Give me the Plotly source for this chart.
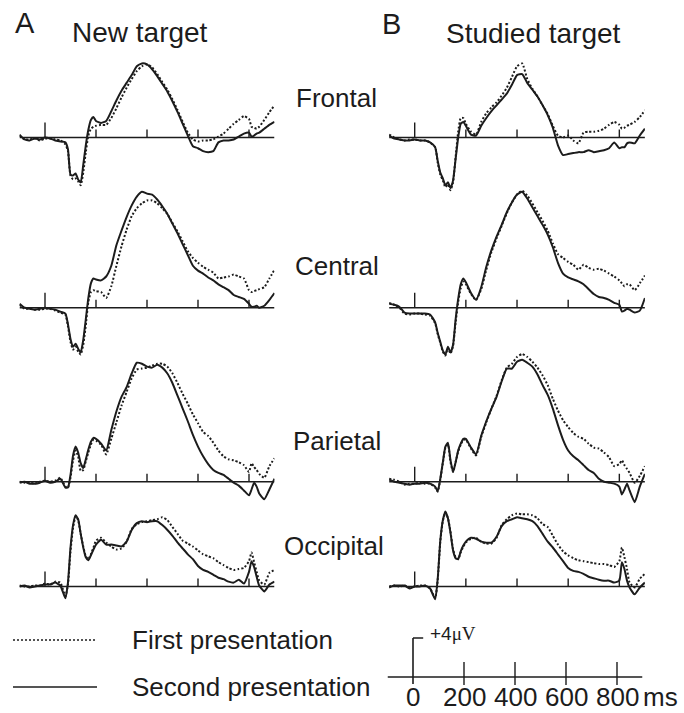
import plotly.graph_objects as go

# ---------------- data ----------------
TIME_MS = [-100, -80, -60, -40, -20, 0, 20, 40, 60, 80,
           90, 100, 110, 120, 130, 140, 150, 160, 170, 180, 190,
           200, 220, 240, 260, 280, 300, 320, 340, 360, 380, 400, 420, 440, 460,
           480, 500, 520, 540, 560, 580, 600, 620, 640, 660, 680, 700, 720, 740,
           760, 780, 800, 810, 820, 830, 840, 860, 880, 900]

REGIONS = ["Frontal", "Central", "Parietal", "Occipital"]
CONDITIONS = ["New target", "Studied target"]
PANEL_LETTERS = ["A", "B"]
LEGEND_LABELS = ["First presentation", "Second presentation"]
SCALE_TICKS = [0, 200, 400, 600, 800]
SCALE_TICK_LABELS = ["0", "200", "400", "600", "800"]
SCALE_UV = 4
PANEL_TICKS = [0, 200, 400, 600, 800]

# amplitudes in microvolts (positive up)
NEW_FRONTAL_FIRST = [0.2, -0.2, -0.2, -0.1, -0.3, -0.1, -0.1, -0.2, -0.3, -0.7,
                     -1.4, -3.9, -4.3, -4.2, -4.5, -4.9, -3.6, -1.5, 0.2, 0.9, 1.1,
                     1.2, 1.3, 1.3, 2.0, 3.0, 4.1, 5.1, 6.0, 6.8, 7.3, 7.5, 7.2, 6.5, 5.7,
                     4.9, 3.9, 2.8, 1.6, 0.5, -0.2, -0.4, -0.3, -0.3, -0.2, 0.1, 0.4, 0.9, 1.4,
                     1.8, 2.2, 1.9, 1.1, 1.0, 0.9, 1.1, 1.8, 2.6, 3.3]
NEW_FRONTAL_SECOND = [0.3, -0.2, -0.3, -0.1, -0.2, 0.0, -0.1, -0.3, -0.4, -0.5,
                      -1.2, -3.8, -3.9, -3.7, -4.3, -4.6, -2.8, -0.8, 0.8, 1.8, 2.1,
                      1.7, 1.5, 1.7, 2.7, 3.8, 4.8, 5.6, 6.4, 7.3, 7.6, 7.5, 7.0, 6.3, 5.5,
                      4.7, 3.7, 2.6, 1.4, 0.2, -0.9, -1.1, -1.4, -1.5, -1.4, -0.5, -0.3, -0.3, -0.2,
                      0.1, 0.4, 0.5, 0.1, 0.2, 0.4, 0.5, 0.9, 1.3, 1.6]

NEW_CENTRAL_FIRST = [0.3, -0.1, -0.1, -0.2, -0.2, -0.1, -0.1, -0.3, -0.5, -0.7,
                     -1.9, -3.5, -4.3, -4.0, -4.5, -4.8, -3.8, -1.8, 0.6, 1.6, 1.8,
                     1.7, 1.6, 1.0, 2.2, 4.3, 6.3, 8.0, 9.4, 10.2, 10.7, 11.0, 11.0, 10.7, 10.2,
                     9.6, 8.7, 7.8, 6.8, 5.8, 5.1, 4.6, 4.2, 3.9, 3.6, 3.0, 3.1, 3.2, 3.4,
                     3.2, 3.0, 1.8, 1.6, 1.7, 1.8, 1.9, 2.1, 3.0, 3.9]
NEW_CENTRAL_SECOND = [0.4, 0.0, -0.1, -0.2, -0.1, 0.0, -0.1, -0.2, -0.4, -0.6,
                      -1.7, -3.2, -4.0, -3.7, -4.2, -4.6, -3.3, -1.2, 1.0, 2.5, 3.0,
                      2.9, 2.8, 3.2, 4.3, 6.4, 7.9, 9.3, 10.5, 11.4, 11.9, 11.7, 11.6, 11.1, 10.4,
                      9.6, 8.6, 7.6, 6.5, 5.4, 4.3, 3.8, 3.5, 3.1, 2.8, 2.4, 2.1, 1.8, 1.3,
                      1.1, 0.9, 0.4, 0.1, 0.1, 0.2, 0.0, 0.2, 0.8, 1.5]

NEW_PARIETAL_FIRST = [0.0, -0.1, -0.1, -0.2, 0.0, 0.1, 0.0, 0.1, 0.4, -0.5,
                      -0.6, 0.4, 2.2, 3.2, 2.6, 1.1, 1.2, 2.1, 3.0, 3.8, 4.3,
                      4.2, 3.8, 2.8, 4.4, 6.1, 7.8, 9.2, 10.6, 11.5, 11.6, 11.7, 11.9, 12.1, 12.1,
                      11.8, 11.1, 10.1, 9.0, 8.0, 6.9, 6.0, 5.1, 4.7, 4.0, 3.2, 2.6, 2.3, 2.2,
                      2.0, 1.7, 1.0, 1.9, 1.5, 1.2, 0.8, 0.4, 1.6, 2.4]
NEW_PARIETAL_SECOND = [-0.1, 0.0, -0.2, -0.2, -0.1, 0.1, -0.1, 0.0, 0.3, -0.6,
                       -0.6, 0.7, 2.7, 3.6, 3.0, 1.9, 1.4, 2.3, 3.3, 4.1, 4.5,
                       4.4, 3.9, 3.2, 5.3, 7.2, 8.7, 9.7, 11.1, 12.2, 12.1, 11.8, 11.7, 12.0, 11.7,
                       11.1, 10.1, 8.8, 7.5, 6.2, 4.8, 3.6, 2.6, 1.8, 1.2, 0.9, 0.7, 0.3, -0.1,
                       -0.4, -0.9, -1.4, -0.8, -0.1, -0.5, -1.2, -1.8, -0.8, 0.3]

NEW_OCCIPITAL_FIRST = [0.1, 0.0, 0.0, 0.1, 0.1, 0.3, 0.2, 0.5, 0.4, -1.0,
                       0.2, 3.6, 6.0, 7.2, 6.8, 5.4, 4.1, 3.1, 2.8, 3.3, 4.0,
                       4.7, 5.0, 4.5, 4.1, 3.8, 3.9, 4.6, 5.9, 6.4, 6.6, 6.7, 6.8, 6.9, 7.1,
                       6.8, 6.1, 5.4, 4.7, 4.4, 4.1, 3.7, 3.3, 3.1, 2.9, 2.5, 2.2, 1.9, 1.7,
                       1.8, 1.9, 2.6, 3.5, 2.5, 1.5, 0.6, 0.2, 1.4, 1.7]
NEW_OCCIPITAL_SECOND = [0.0, 0.1, -0.1, 0.0, 0.1, 0.2, 0.2, 0.4, 0.1, -1.2,
                        0.4, 4.0, 6.3, 7.3, 6.9, 5.4, 4.0, 3.0, 2.7, 3.2, 3.8,
                        4.3, 4.8, 4.3, 4.3, 4.2, 4.1, 4.6, 5.8, 6.5, 6.7, 6.6, 6.7, 6.7, 6.3,
                        5.8, 5.2, 4.5, 3.9, 3.3, 2.8, 2.1, 1.7, 1.5, 1.2, 0.9, 0.75, 0.5, 0.4,
                        0.7, 0.3, 1.5, 2.6, 2.0, 1.0, 0.1, -0.5, 0.2, 0.5]

STUDIED_FRONTAL_FIRST = [0.3, 0.0, -0.2, -0.3, -0.2, -0.2, -0.3, -0.3, -0.5, -1.0,
                         -2.6, -3.8, -4.4, -5.1, -4.8, -5.4, -4.6, -2.0, 0.6, 2.0, 2.0,
                         1.4, 0.6, 0.3, 1.6, 2.5, 3.1, 3.6, 4.3, 5.1, 6.2, 7.3, 7.6, 6.0, 5.0,
                         4.2, 3.3, 2.4, 1.2, 0.2, 0.0, 0.2, -0.3, -0.6, 0.5, 0.6, 0.6, 0.7, 0.9,
                         1.3, 1.6, 1.3, 0.9, 1.0, 1.2, 1.3, 1.6, 2.1, 2.8]
STUDIED_FRONTAL_SECOND = [0.2, -0.1, -0.2, -0.3, -0.3, -0.2, -0.3, -0.3, -0.5, -1.0,
                          -2.4, -3.6, -4.2, -4.9, -4.6, -5.2, -4.4, -2.2, 0.0, 1.4, 1.6,
                          1.2, 0.3, 0.2, 1.2, 2.0, 2.7, 3.3, 3.9, 4.5, 5.4, 6.4, 6.5, 5.6, 4.9,
                          4.2, 3.3, 2.3, 1.0, -0.8, -1.8, -1.7, -1.6, -1.5, -1.5, -1.3, -1.5, -1.4, -1.3,
                          -1.1, -0.5, -1.1, -1.0, -1.0, -0.6, -0.5, -0.6, 0.2, 0.9]

STUDIED_CENTRAL_FIRST = [0.5, 0.3, 0.0, -0.6, -0.7, -0.6, -0.6, -0.7, -0.8, -1.6,
                         -2.7, -3.6, -4.5, -4.9, -4.1, -4.7, -3.9, -1.5, 0.6, 2.0, 2.7,
                         2.4, 1.4, 0.8, 1.9, 3.9, 5.7, 7.1, 8.4, 9.7, 10.8, 11.6, 12.0, 11.5, 10.7,
                         9.8, 8.9, 7.9, 6.6, 5.5, 5.1, 4.7, 4.4, 3.9, 4.4, 4.1, 3.9, 4.0, 3.8,
                         3.5, 3.2, 2.8, 2.5, 2.2, 2.4, 2.4, 1.8, 2.5, 3.3]
STUDIED_CENTRAL_SECOND = [0.4, 0.3, 0.1, -0.5, -0.6, -0.6, -0.6, -0.6, -0.7, -1.5,
                          -2.6, -3.5, -4.4, -4.8, -4.0, -4.6, -3.8, -1.2, 0.9, 2.4, 3.0,
                          2.6, 1.5, 0.8, 2.1, 4.2, 5.9, 7.3, 8.5, 9.8, 10.8, 11.6, 11.9, 11.2, 10.3,
                          9.4, 8.5, 7.5, 6.2, 4.6, 3.5, 3.1, 2.9, 2.7, 2.4, 1.9, 1.4, 1.1, 1.0,
                          0.8, 0.5, 0.3, -0.4, -0.3, -0.1, -0.2, -0.5, -0.3, 1.0]

STUDIED_PARIETAL_FIRST = [0.3, 0.2, 0.0, -0.3, -0.2, -0.2, -0.1, -0.2, -0.2, -0.6,
                          -1.0, 0.2, 1.9, 3.5, 3.8, 2.0, 1.0, 2.0, 3.1, 3.8, 4.3,
                          4.3, 3.4, 2.7, 4.6, 6.1, 7.5, 8.8, 10.4, 11.7, 12.1, 12.8, 13.1, 12.8, 12.3,
                          11.7, 10.9, 9.9, 8.5, 7.3, 6.3, 5.6, 5.0, 4.6, 4.4, 3.9, 3.5, 3.4, 3.0,
                          2.5, 1.6, 1.8, 2.2, 1.7, 1.3, 0.9, -0.1, 0.6, 1.6]
STUDIED_PARIETAL_SECOND = [0.2, 0.0, -0.1, -0.2, -0.3, -0.2, -0.2, -0.1, -0.2, -0.5,
                           -1.0, 0.3, 2.0, 3.6, 4.0, 2.2, 1.0, 2.0, 3.2, 3.9, 4.4,
                           4.4, 3.5, 2.8, 4.7, 6.2, 7.5, 8.7, 10.3, 11.6, 11.6, 12.3, 12.5, 12.2, 11.8,
                           11.0, 9.9, 8.9, 7.5, 5.8, 4.3, 3.2, 2.6, 2.2, 1.7, 1.2, 0.9, 0.3, 0.0,
                           -0.1, -0.2, -0.5, -1.3, -0.8, -0.2, -0.9, -2.1, -0.5, 0.8]

STUDIED_OCCIPITAL_FIRST = [0.0, 0.1, 0.0, 0.1, -0.1, 0.0, 0.1, 0.1, -0.2, -1.2,
                           0.7, 4.6, 6.7, 7.6, 7.0, 5.6, 3.8, 3.0, 2.8, 3.5, 4.1,
                           4.5, 4.9, 5.0, 4.6, 4.4, 4.4, 5.0, 6.3, 6.9, 7.3, 7.5, 7.4, 7.4, 7.3,
                           7.0, 6.4, 6.1, 5.2, 4.3, 3.6, 3.2, 2.9, 2.7, 2.6, 2.5, 2.4, 2.3, 2.3,
                           2.2, 2.0, 2.6, 4.0, 3.0, 1.8, 0.4, -0.1, 0.8, 1.3]
STUDIED_OCCIPITAL_SECOND = [-0.1, 0.1, 0.1, 0.1, -0.2, 0.0, 0.0, 0.1, -0.2, -1.3,
                            0.8, 4.7, 6.8, 7.7, 7.0, 5.5, 3.7, 2.9, 2.8, 3.6, 4.2,
                            4.6, 5.0, 4.9, 4.6, 4.5, 4.5, 5.1, 6.2, 6.7, 6.9, 7.1, 7.0, 6.9, 6.7,
                            6.2, 5.4, 4.6, 4.0, 3.3, 2.6, 1.9, 1.6, 1.5, 1.3, 1.0, 0.85, 0.7, 0.6,
                            0.6, 0.4, 0.6, 2.5, 1.8, 0.6, -0.1, -0.8, -0.1, 0.4]

SERIES = {
    (0, "Frontal"): (NEW_FRONTAL_FIRST, NEW_FRONTAL_SECOND),
    (0, "Central"): (NEW_CENTRAL_FIRST, NEW_CENTRAL_SECOND),
    (0, "Parietal"): (NEW_PARIETAL_FIRST, NEW_PARIETAL_SECOND),
    (0, "Occipital"): (NEW_OCCIPITAL_FIRST, NEW_OCCIPITAL_SECOND),
    (1, "Frontal"): (STUDIED_FRONTAL_FIRST, STUDIED_FRONTAL_SECOND),
    (1, "Central"): (STUDIED_CENTRAL_FIRST, STUDIED_CENTRAL_SECOND),
    (1, "Parietal"): (STUDIED_PARIETAL_FIRST, STUDIED_PARIETAL_SECOND),
    (1, "Occipital"): (STUDIED_OCCIPITAL_FIRST, STUDIED_OCCIPITAL_SECOND),
}

# ---------------- geometry / style ----------------
W, H = 684, 713
K = 9.75                      # pixels per microvolt
COL_ZERO_PX = [45.0, 414.7]   # x pixel of t = 0 in each column
COL_PX_PER_MS = [0.255, 0.2558]
ROW_BASE_PX = [137.5, 307.7, 481.7, 586.5]
SCALE_ZERO_PX = 413.0
SCALE_BASE_PX = 677.0
T_MIN, T_MAX = -100, 900
INK = "#1c1c1c"
FONT = "Liberation Sans, Arial, sans-serif"

fig = go.Figure()
layout = {}
shapes = []
annotations = []


def add_axes(idx, zero_px, px_ms, base_px, above_px, below_px):
    xa = "xaxis" if idx == 1 else f"xaxis{idx}"
    ya = "yaxis" if idx == 1 else f"yaxis{idx}"
    layout[xa] = dict(domain=[(zero_px + T_MIN * px_ms) / W, (zero_px + T_MAX * px_ms) / W],
                      range=[T_MIN, T_MAX], visible=False, fixedrange=True)
    layout[ya] = dict(domain=[1 - (base_px + below_px) / H, 1 - (base_px - above_px) / H],
                      range=[-below_px / K, above_px / K], visible=False, fixedrange=True,
                      anchor="x" if idx == 1 else f"x{idx}")
    return ("x" if idx == 1 else f"x{idx}"), ("y" if idx == 1 else f"y{idx}")


idx = 0
for c in range(2):
    for r, region in enumerate(REGIONS):
        idx += 1
        xr, yr = add_axes(idx, COL_ZERO_PX[c], COL_PX_PER_MS[c], ROW_BASE_PX[r], 130, 60)
        # baseline
        shapes.append(dict(type="line", xref=xr, yref=yr, x0=T_MIN, x1=T_MAX, y0=0, y1=0,
                           line=dict(color=INK, width=1.6)))
        for t in PANEL_TICKS:
            h = 15 / K if t == 0 else 8 / K
            shapes.append(dict(type="line", xref=xr, yref=yr, x0=t, x1=t, y0=0, y1=h,
                               line=dict(color=INK, width=1.4)))
        first, second = SERIES[(c, region)]
        fig.add_trace(go.Scatter(x=TIME_MS, y=first, mode="lines", xaxis=xr, yaxis=yr,
                                 line=dict(color=INK, width=2, dash="2px,2px", shape="spline", smoothing=0.5),
                                 name=LEGEND_LABELS[0], showlegend=False, hoverinfo="skip"))
        fig.add_trace(go.Scatter(x=TIME_MS, y=second, mode="lines", xaxis=xr, yaxis=yr,
                                 line=dict(color=INK, width=2, shape="spline", smoothing=0.5),
                                 name=LEGEND_LABELS[1], showlegend=False, hoverinfo="skip"))

# scale bar panel
idx += 1
xs, ys = add_axes(idx, SCALE_ZERO_PX, 0.255, SCALE_BASE_PX, 60, 25)
shapes.append(dict(type="line", xref=xs, yref=ys, x0=T_MIN, x1=T_MAX, y0=0, y1=0,
                   line=dict(color=INK, width=1.6)))
shapes.append(dict(type="line", xref=xs, yref=ys, x0=0, x1=0, y0=-7 / K, y1=SCALE_UV,
                   line=dict(color=INK, width=1.6)))
shapes.append(dict(type="line", xref=xs, yref=ys, x0=0, x1=40, y0=SCALE_UV, y1=SCALE_UV,
                   line=dict(color=INK, width=1.6)))
for t, lab in zip(SCALE_TICKS, SCALE_TICK_LABELS):
    if t != 0:
        shapes.append(dict(type="line", xref=xs, yref=ys, x0=t, x1=t, y0=-8 / K, y1=15 / K,
                           line=dict(color=INK, width=1.4)))
    annotations.append(dict(xref=xs, yref=ys, x=t, y=-20 / K, text=lab, showarrow=False,
                            xanchor="center", yanchor="middle",
                            font=dict(family=FONT, size=26, color=INK)))
annotations.append(dict(xref=xs, yref=ys, x=900, y=-20 / K, text="ms", showarrow=False,
                        xanchor="left", yanchor="middle", xshift=-2,
                        font=dict(family=FONT, size=26, color=INK)))
annotations.append(dict(xref=xs, yref=ys, x=60, y=SCALE_UV + 0.5, text="+4<span style='font-family:Liberation Serif'>μV</span>",
                        showarrow=False, xanchor="left", yanchor="middle",
                        font=dict(family=FONT, size=19, color=INK)))


def paper_text(text, px, py, size, anchor="center"):
    annotations.append(dict(xref="paper", yref="paper", x=px / W, y=1 - py / H, text=text,
                            showarrow=False, xanchor=anchor, yanchor="middle",
                            font=dict(family=FONT, size=size, color=INK)))


# headings
paper_text(PANEL_LETTERS[0], 25, 23, 29)
paper_text(CONDITIONS[0], 140, 32, 28)
paper_text(PANEL_LETTERS[1], 391, 24, 29)
paper_text(CONDITIONS[1], 533, 33, 28)

# region labels
REGION_LABEL_PX = [(336, 98), (336.5, 266), (337, 441), (333.5, 546)]
for name, (px, py) in zip(REGIONS, REGION_LABEL_PX):
    paper_text(name, px, py, 26)

# legend
LEG_Y = [640, 687]
shapes.append(dict(type="line", xref="paper", yref="paper", x0=13 / W, x1=97 / W,
                   y0=1 - LEG_Y[0] / H, y1=1 - LEG_Y[0] / H,
                   line=dict(color=INK, width=1.5, dash="2px,2px")))
shapes.append(dict(type="line", xref="paper", yref="paper", x0=13 / W, x1=97 / W,
                   y0=1 - LEG_Y[1] / H, y1=1 - LEG_Y[1] / H,
                   line=dict(color=INK, width=1.5)))
paper_text(LEGEND_LABELS[0], 130, LEG_Y[0], 26, anchor="left")
paper_text(LEGEND_LABELS[1], 130, LEG_Y[1], 26, anchor="left")

fig.update_layout(**layout)
fig.update_layout(width=W, height=H, margin=dict(l=0, r=0, t=0, b=0),
                  paper_bgcolor="white", plot_bgcolor="rgba(0,0,0,0)",
                  shapes=shapes, annotations=annotations, showlegend=False)

fig.write_html("out.html", config={"displayModeBar": False})
